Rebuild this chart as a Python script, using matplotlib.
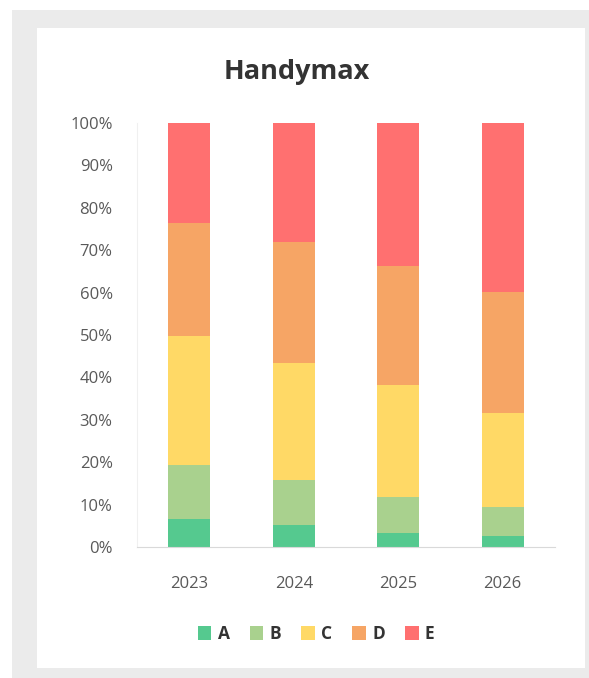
import matplotlib
matplotlib.use("Agg")
import matplotlib.pyplot as plt
from matplotlib.patches import Rectangle
from matplotlib.ticker import PercentFormatter, MultipleLocator

plt.rcParams['font.family'] = ['Open Sans', 'DejaVu Sans']

years = ['2023', '2024', '2025', '2026']
series_names = ['A', 'B', 'C', 'D', 'E']
A = [6.7, 5.3, 3.4, 2.5]
B = [12.7, 10.4, 8.4, 6.9]
C = [30.3, 27.6, 26.5, 22.3]
D = [26.6, 28.6, 27.9, 28.4]
E = [23.7, 28.1, 33.8, 39.9]
values = [A, B, C, D, E]
colors = ['#55c98f', '#a9d18e', '#ffd966', '#f6a565', '#ff7070']

W, H = 589, 678
fig = plt.figure(figsize=(W / 100, H / 100), dpi=100)
fig.patch.set_facecolor('white')
# outer grey frame and white panel
fig.patches.append(Rectangle((12 / W, 0), 1 - 12 / W, 1 - 10 / H, transform=fig.transFigure,
                             facecolor='#ebebeb', edgecolor='none', zorder=-2))
fig.patches.append(Rectangle((37 / W, 10 / H), (585 - 37) / W, (668 - 28) / H,
                             transform=fig.transFigure, facecolor='white', edgecolor='none', zorder=-1))

ax = fig.add_axes([137 / W, 1 - 547 / H, (555 - 137) / W, (547 - 123) / H])
ax.set_facecolor('none')

x = list(range(len(years)))
bottom = [0.0] * len(years)
for name, vals, col in zip(series_names, values, colors):
    ax.bar(x, vals, width=0.4, bottom=bottom, color=col, label=name, zorder=2)
    bottom = [b + v for b, v in zip(bottom, vals)]

ax.set_xlim(-0.5, 3.5)
ax.set_ylim(0, 100)
ax.yaxis.set_major_locator(MultipleLocator(10))
ax.yaxis.set_major_formatter(PercentFormatter(decimals=0))
ax.set_xticks(x)
ax.set_xticklabels(years)
ax.tick_params(axis='both', length=0, labelsize=12, labelcolor='#595959')
ax.tick_params(axis='x', pad=21)
ax.tick_params(axis='y', pad=17.5)
for s in ['top', 'right']:
    ax.spines[s].set_visible(False)
ax.spines['left'].set_color('#f0f0f0')
ax.spines['bottom'].set_color('#d9d9d9')

fig.text(297 / W, 1 - 72 / H, 'Handymax', ha='center', va='center',
         fontsize=19.5, fontweight='bold', color='#333333')

leg = fig.legend(loc='center', bbox_to_anchor=(316 / W, 1 - 634 / H), ncol=5, frameon=False,
                 handlelength=0.8, handleheight=0.8, handletextpad=0.35, columnspacing=1.15,
                 prop={'size': 12.5, 'weight': 'bold'})
for t in leg.get_texts():
    t.set_color('#333333')

fig.savefig('out.png', dpi=100)
